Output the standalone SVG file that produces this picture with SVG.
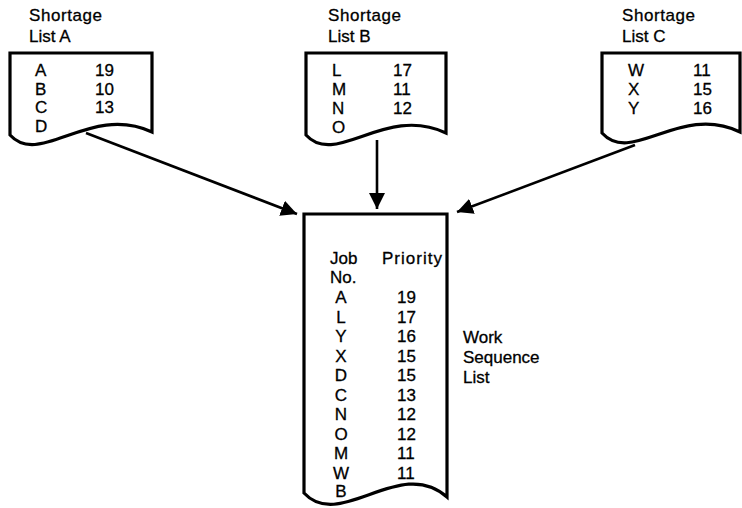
<svg xmlns="http://www.w3.org/2000/svg" width="742" height="508" viewBox="0 0 742 508">
  <style>
    .doc { fill: #fff; stroke: #000; stroke-width: 3.2; stroke-linejoin: miter; }
    .t { font-family: "Liberation Sans", Arial, sans-serif; font-size: 17px; fill: #000; stroke: #000; stroke-width: 0.3; }
    .c { text-anchor: middle; }
    .edge { stroke: #000; stroke-width: 2.6; fill: none; marker-end: url(#head); }
  </style>
  <defs>
    <marker id="head" markerUnits="userSpaceOnUse" markerWidth="18" markerHeight="16" refX="16" refY="8" orient="auto">
      <path d="M0,0 L16,8 L0,16 Z" fill="#000"/>
    </marker>
  </defs>
  <rect width="742" height="508" fill="#fff"/>

  <!-- Shortage list A -->
  <g id="list-a">
    <text class="t" x="29" y="21" textLength="73">Shortage</text>
    <text class="t" x="29" y="42">List A</text>
    <path class="doc" d="M10,53 H152 V132 C90,103 40,168 10,135 Z"/>
    <text class="t" x="35" y="76">A</text><text class="t" x="95" y="76">19</text>
    <text class="t" x="35" y="94.5">B</text><text class="t" x="95" y="94.5">10</text>
    <text class="t" x="35" y="113">C</text><text class="t" x="95" y="113">13</text>
    <text class="t" x="35" y="131.5">D</text>
  </g>

  <!-- Shortage list B -->
  <g id="list-b">
    <text class="t" x="328" y="21" textLength="73">Shortage</text>
    <text class="t" x="328" y="42">List B</text>
    <path class="doc" d="M306,53 H446 V133 C385,104 336,168 306,135 Z"/>
    <text class="t" x="332" y="76">L</text><text class="t" x="393" y="76">17</text>
    <text class="t" x="332" y="95">M</text><text class="t" x="393" y="95">11</text>
    <text class="t" x="332" y="114">N</text><text class="t" x="393" y="114">12</text>
    <text class="t" x="332" y="133">O</text>
  </g>

  <!-- Shortage list C -->
  <g id="list-c">
    <text class="t" x="622" y="21" textLength="73">Shortage</text>
    <text class="t" x="622" y="42">List C</text>
    <path class="doc" d="M602,53 H740 V132 C680,103 632,166 602,133 Z"/>
    <text class="t" x="628" y="76">W</text><text class="t" x="693" y="76">11</text>
    <text class="t" x="628" y="95">X</text><text class="t" x="693" y="95">15</text>
    <text class="t" x="628" y="114">Y</text><text class="t" x="693" y="114">16</text>
  </g>

  <!-- Work sequence list -->
  <g id="work-sequence">
    <path class="doc" d="M304,214 H447 V497 C400,455 340,532 304,493 Z"/>
    <text class="t" x="330" y="264">Job</text>
    <text class="t" x="382" y="264" textLength="60">Priority</text>
    <text class="t" x="330" y="283">No.</text>
    <g class="t">
      <text class="c" x="341" y="303">A</text><text x="397" y="303">19</text>
      <text class="c" x="341" y="322.5">L</text><text x="397" y="322.5">17</text>
      <text class="c" x="341" y="342">Y</text><text x="397" y="342">16</text>
      <text class="c" x="341" y="361.5">X</text><text x="397" y="361.5">15</text>
      <text class="c" x="341" y="381">D</text><text x="397" y="381">15</text>
      <text class="c" x="341" y="400.5">C</text><text x="397" y="400.5">13</text>
      <text class="c" x="341" y="420">N</text><text x="397" y="420">12</text>
      <text class="c" x="341" y="439.5">O</text><text x="397" y="439.5">12</text>
      <text class="c" x="341" y="459">M</text><text x="397" y="459">11</text>
      <text class="c" x="341" y="478.5">W</text><text x="397" y="478.5">11</text>
      <text class="c" x="341" y="497">B</text>
    </g>
    <text class="t" x="463" y="343">Work</text>
    <text class="t" x="463" y="363">Sequence</text>
    <text class="t" x="463" y="383">List</text>
  </g>

  <!-- Connectors -->
  <g id="connectors">
    <line class="edge" x1="86" y1="133" x2="297" y2="214"/>
    <line class="edge" x1="377" y1="140" x2="377" y2="209"/>
    <line class="edge" x1="635" y1="145" x2="457" y2="212"/>
  </g>
</svg>
